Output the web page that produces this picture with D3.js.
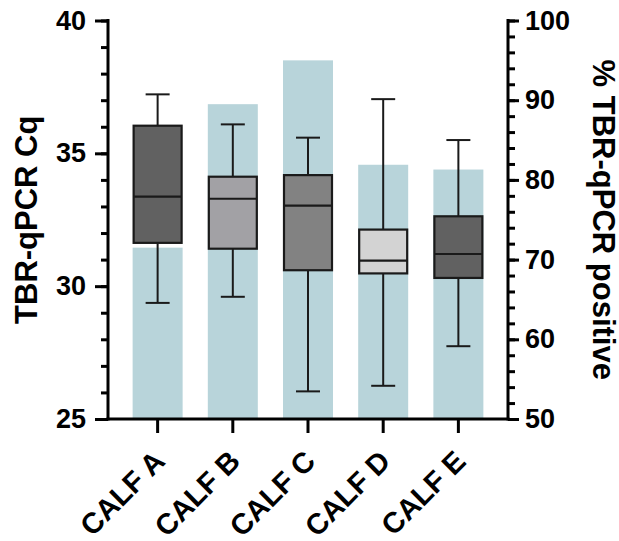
<!DOCTYPE html>
<html>
<head>
<meta charset="utf-8">
<script src="https://cdn.jsdelivr.net/npm/d3@7"></script>
<style>
  body { margin: 0; background: #fff; }
  text { font-family: "Liberation Sans", Arial, sans-serif; font-weight: bold; fill: #000; }
</style>
</head>
<body>
<div id="chart"></div>
<script>
// data
var categories = ["CALF A", "CALF B", "CALF C", "CALF D", "CALF E"];
var pctPositive = [71.5, 89.5, 95.0, 81.9, 81.3];   // right axis, bars
var whiskerMin = [29.37, 29.60, 26.04, 26.25, 27.74];
var q1 = [31.63, 31.41, 30.60, 30.48, 30.31];
var median = [33.37, 33.29, 33.03, 30.96, 31.21];
var q3 = [36.04, 34.12, 34.18, 32.13, 32.63];
var whiskerMax = [37.22, 36.09, 35.59, 37.04, 35.50];
var leftTicks = [25, 30, 35, 40];
var rightTicks = [50, 60, 70, 80, 90, 100];

var boxFill = ["#616161", "#a2a1a5", "#828282", "#d3d3d3", "#616161"];

var W = 619, H = 541;
var plotL = 108, plotR = 508, plotT = 20.5, plotB = 419;

var svg = d3.select("#chart").append("svg")
    .attr("width", W)
    .attr("height", H);

// scales
var x = d3.scaleBand().domain(categories).range([plotL, plotR]).paddingOuter(0.16).paddingInner(0);
var yL = d3.scaleLinear().domain([25, 40]).range([plotB, plotT]);
var yR = d3.scaleLinear().domain([50, 100]).range([plotB, plotT]);

var rows = categories.map(function (c, i) {
    return { cat: c, pct: pctPositive[i], lo: whiskerMin[i], q1: q1[i], med: median[i], q3: q3[i], hi: whiskerMax[i], fill: boxFill[i] };
});

var cx = function (d) { return x(d.cat) + x.bandwidth() / 2; };

// bars (% positive) behind the boxes
svg.append("g").selectAll("rect")
    .data(rows).enter()
    .append("rect")
    .attr("x", function (d) { return cx(d) - 25; })
    .attr("width", 50)
    .attr("y", function (d) { return yR(d.pct); })
    .attr("height", function (d) { return plotB - yR(d.pct); })
    .attr("fill", "#b8d4da");

// box plots
var box = svg.append("g").selectAll("g")
    .data(rows).enter()
    .append("g");

box.append("line")
    .attr("x1", cx).attr("x2", cx)
    .attr("y1", function (d) { return yL(d.hi); })
    .attr("y2", function (d) { return yL(d.lo); })
    .attr("stroke", "#1a1a1a").attr("stroke-width", 2);

["hi", "lo"].forEach(function (k) {
    box.append("line")
        .attr("x1", function (d) { return cx(d) - 12; })
        .attr("x2", function (d) { return cx(d) + 12; })
        .attr("y1", function (d) { return yL(d[k]); })
        .attr("y2", function (d) { return yL(d[k]); })
        .attr("stroke", "#1a1a1a").attr("stroke-width", 2);
});

box.append("rect")
    .attr("x", function (d) { return cx(d) - 24; })
    .attr("width", 48)
    .attr("y", function (d) { return yL(d.q3); })
    .attr("height", function (d) { return yL(d.q1) - yL(d.q3); })
    .attr("fill", function (d) { return d.fill; })
    .attr("stroke", "#1a1a1a").attr("stroke-width", 2.2);

box.append("line")
    .attr("x1", function (d) { return cx(d) - 24; })
    .attr("x2", function (d) { return cx(d) + 24; })
    .attr("y1", function (d) { return yL(d.med); })
    .attr("y2", function (d) { return yL(d.med); })
    .attr("stroke", "#1a1a1a").attr("stroke-width", 2.2);

// axes
function styleAxis(g, size) {
    g.selectAll("path, line").attr("stroke", "#000").attr("stroke-width", 3);
    g.select(".domain").remove();
    g.selectAll("text").attr("font-size", size || 27).attr("fill", "#000")
        .style("font-family", '"Liberation Sans", Arial, sans-serif').style("font-weight", "bold");
}

// left axis
svg.append("g").attr("transform", "translate(" + plotL + ",0)")
    .call(d3.axisLeft(yL).tickValues(d3.range(25, 41, 1)).tickSize(7).tickFormat(""))
    .call(styleAxis);
svg.append("g").attr("transform", "translate(" + plotL + ",0)")
    .call(d3.axisLeft(yL).tickValues(leftTicks).tickSize(13).tickPadding(9))
    .call(styleAxis);
svg.append("line").attr("x1", plotL).attr("x2", plotL)
    .attr("y1", plotT - 1.5).attr("y2", plotB + 1.5)
    .attr("stroke", "#000").attr("stroke-width", 3);

// right axis
svg.append("g").attr("transform", "translate(" + plotR + ",0)")
    .call(d3.axisRight(yR).tickValues(d3.range(50, 101, 2)).tickSize(7).tickFormat(""))
    .call(styleAxis);
svg.append("g").attr("transform", "translate(" + plotR + ",0)")
    .call(d3.axisRight(yR).tickValues(rightTicks).tickSize(11).tickPadding(6))
    .call(styleAxis);
svg.append("line").attr("x1", plotR).attr("x2", plotR)
    .attr("y1", plotT - 1.5).attr("y2", plotB + 1.5)
    .attr("stroke", "#000").attr("stroke-width", 3);

// bottom axis
var xAxis = svg.append("g").attr("transform", "translate(0," + plotB + ")")
    .call(d3.axisBottom(x).tickSize(14).tickSizeOuter(0))
    .call(styleAxis, 29);
xAxis.selectAll("text")
    .attr("text-anchor", "end")
    .attr("transform", "translate(9,44) rotate(-45)")
    .attr("x", 0).attr("y", 0).attr("dy", 0);
svg.append("line").attr("x1", plotL - 1.5).attr("x2", plotR + 1.5)
    .attr("y1", plotB).attr("y2", plotB)
    .attr("stroke", "#000").attr("stroke-width", 3);

// axis titles
svg.append("text")
    .attr("transform", "translate(37," + ((plotT + plotB) / 2) + ") rotate(-90)")
    .attr("text-anchor", "middle")
    .attr("font-size", 31)
    .text("TBR-qPCR Cq");

svg.append("text")
    .attr("transform", "translate(593," + ((plotT + plotB) / 2) + ") rotate(90)")
    .attr("text-anchor", "middle")
    .attr("font-size", 31)
    .text("% TBR-qPCR positive");
</script>
</body>
</html>
